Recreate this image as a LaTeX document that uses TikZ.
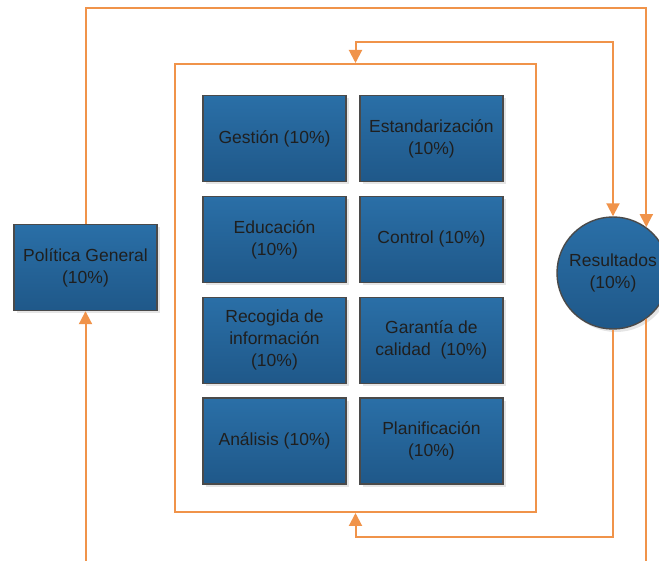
\documentclass[tikz,border=0pt]{standalone}
\usepackage{fontspec}
\setmainfont{Liberation Sans}
\usetikzlibrary{positioning,arrows.meta,shadows}
\definecolor{flow}{HTML}{F0934A}
\definecolor{boxtop}{HTML}{2A6FA7}
\definecolor{boxbot}{HTML}{1F5889}
\definecolor{boxline}{HTML}{4A4A4A}

\begin{document}
\begin{tikzpicture}[x=1pt, y=1pt, font=\fontsize{17.5}{22}\selectfont, node distance=13.5pt and 12.5pt,
  blk/.style={draw=boxline, line width=1.4pt, top color=boxtop, bottom color=boxbot, text=black!88, align=center,
    minimum width=143pt, minimum height=86pt, inner sep=2pt,
    drop shadow={shadow xshift=3pt, shadow yshift=-3pt, fill=black!10, opacity=1}},
  res/.style={blk, circle, minimum size=112pt, inner sep=0pt},
  frm/.style={draw=flow, line width=2pt, minimum width=361pt, minimum height=448pt},
  lnk/.style={draw=flow, line width=2pt},
  arr/.style={lnk, -{Triangle[length=13pt, width=13pt]}},
  arr2/.style={lnk, {Triangle[length=13pt, width=13pt]}-{Triangle[length=13pt, width=13pt]}}]
\useasboundingbox (0,0) rectangle (659,561);
\node[frm] (frm) at (355.5,273) {};
\node[blk] (ges) at (274.5,422.5) {Gestión (10\%)};
\node[blk, right=of ges] (est) {Estandarización\\(10\%)};
\node[blk, below=of ges] (edu) {Educación\\(10\%)};
\node[blk, right=of edu] (ctl) {Control (10\%)};
\node[blk, below=of edu] (rec) {Recogida de\\información\\(10\%)};
\node[blk, right=of rec] (gar) {Garantía de\\calidad~ (10\%)};
\node[blk, below=of rec] (ana) {Análisis (10\%)};
\node[blk, right=of ana] (pla) {Planificación\\(10\%)};
\node[blk] (pol) at (85.5,293.5) {Política General\\(10\%)};
\node[res] (res) at (613,288) {Resultados\\(10\%)};
\coordinate (tr) at (res.54 |- 0,553);
\coordinate (br) at (res.south |- 0,24);
\coordinate (outR) at (res.-54 |- 0,0);
\coordinate (inL) at (pol.south |- 0,0);
\draw[arr] (pol.north) |- (tr) -- (res.54);
\draw[arr2] (frm.north) -- ++(0,21) -| (res.north);
\draw[arr] (res.south) -- (br) -| (frm.south);
\draw[lnk] (res.-54) -- (outR);
\draw[arr] (inL) -- (pol.south);
\end{tikzpicture}
\end{document}
